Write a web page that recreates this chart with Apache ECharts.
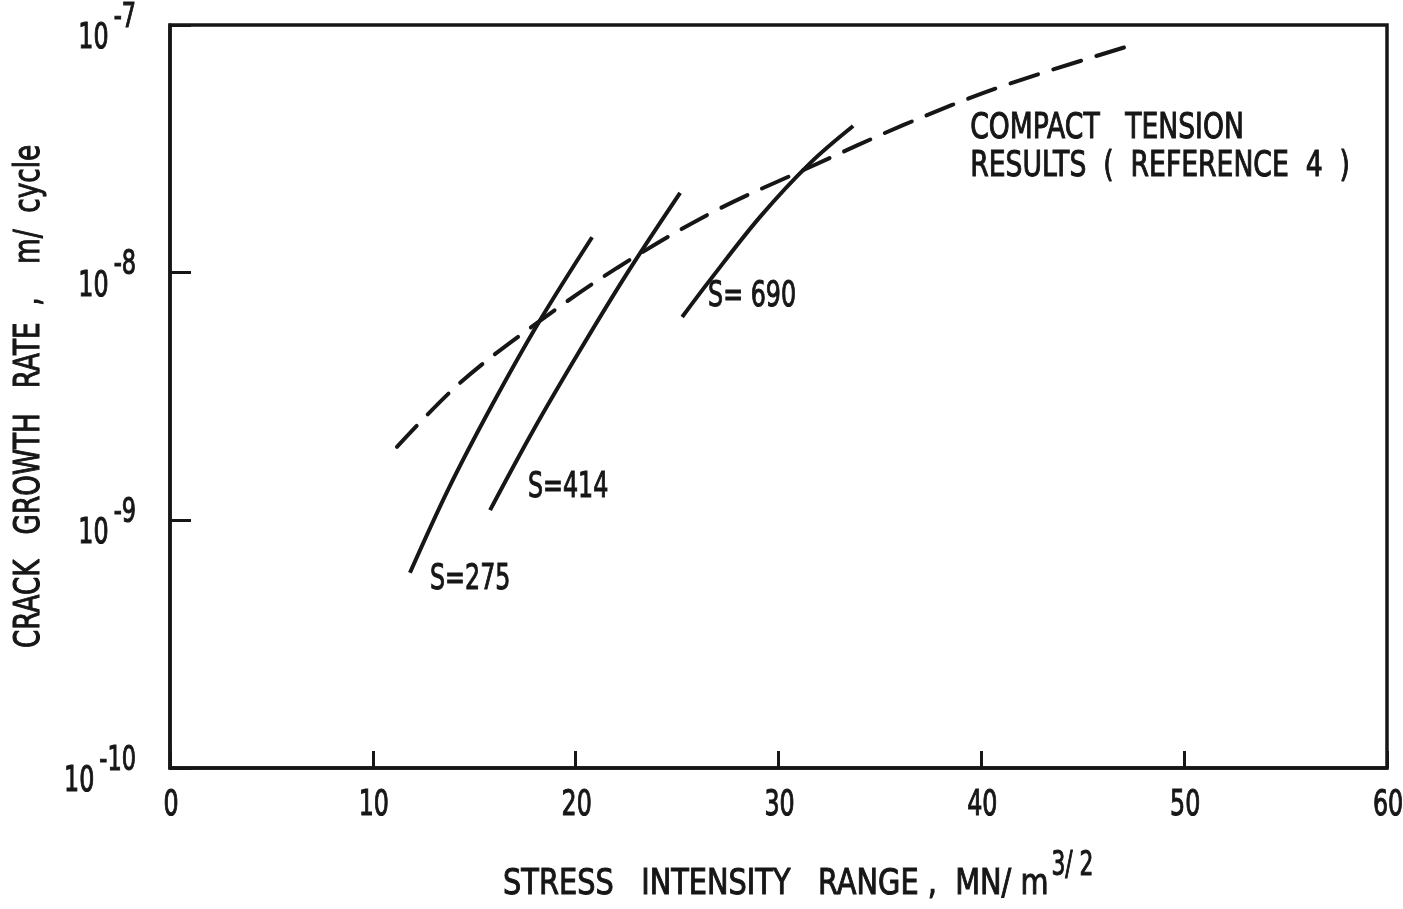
<!DOCTYPE html>
<html>
<head>
<meta charset="utf-8">
<script src="https://cdn.jsdelivr.net/npm/echarts@6/dist/echarts.min.js"></script>
<style>
html,body{margin:0;padding:0;background:#fff;}
#c{width:1403px;height:909px;}
</style>
</head>
<body>
<div id="c"></div>
<script>
// Stress intensity range (MN/m^3/2) and crack growth rate (m/cycle)
var s275X = [11.83, 13.73, 15.88, 18.22, 20.81];
var s275Y = [6.14e-10, 1.34e-9, 2.92e-9, 6.38e-9, 1.39e-8];
var s414X = [15.78, 17.90, 20.17, 22.58, 25.15];
var s414Y = [1.10e-9, 2.30e-9, 4.79e-9, 1.007e-8, 2.10e-8];
var s690X = [25.25, 26.63, 29.09, 31.56, 33.68];
var s690Y = [6.62e-9, 9.35e-9, 1.68e-8, 2.77e-8, 3.91e-8];
var ctX = [11.19, 14.30, 18.10, 22.04, 26.78, 31.56, 36.14, 40.93, 47.44];
var ctY = [1.98e-9, 3.59e-9, 6.27e-9, 1.045e-8, 1.76e-8, 2.67e-8, 3.94e-8, 5.62e-8, 8.30e-8];
var xTicks = [0, 10, 20, 30, 40, 50, 60];
var yTicks = [1e-10, 1e-9, 1e-8, 1e-7];
var curveLabels = [
  {text: 'S=275', x: 12.82, y: 5.74e-10},
  {text: 'S=414', x: 17.65, y: 1.35e-9},
  {text: 'S= 690', x: 26.53, y: 7.98e-9}
];
var noteLabels = [
  {text: 'COMPACT   TENSION', x: 39.45, y: 3.82e-8},
  {text: 'RESULTS  (  REFERENCE  4  )', x: 39.45, y: 2.69e-8}
];
var xName = 'STRESS   INTENSITY   RANGE ,  MN/ m';
var xNameSup = '3/ 2';
var yName = 'CRACK   GROWTH   RATE  ,    m/  cycle';

function zip(xs, ys){ return xs.map(function(v,i){ return [v, ys[i]]; }); }

var FAM = '"DejaVu Sans", "Liberation Sans", sans-serif';
var INK = '#161616';
var solid = {color: INK, width: 4};

var chart = echarts.init(document.getElementById('c'));
chart.setOption({
  backgroundColor: '#fff',
  animation: false,
  grid: {left: 170, top: 25, right: 16, bottom: 141, outerBoundsMode: 'none',
    show: true, borderColor: INK, borderWidth: 3.5, backgroundColor: 'transparent'},
  xAxis: {
    type: 'value', min: xTicks[0], max: xTicks[xTicks.length-1], interval: 10,
    axisLine: {show: true, lineStyle: {color: INK, width: 3.5}},
    axisTick: {show: true, inside: true, length: 17, lineStyle: {color: INK, width: 3}},
    splitLine: {show: false},
    axisLabel: {show: false}
  },
  yAxis: {
    type: 'log', logBase: 10, min: yTicks[0], max: yTicks[yTicks.length-1],
    axisLine: {show: true, lineStyle: {color: INK, width: 3.5}},
    axisTick: {show: true, inside: true, length: 21, lineStyle: {color: INK, width: 3}},
    splitLine: {show: false},
    minorTick: {show: false},
    axisLabel: {show: false}
  },
  series: [
    {type: 'line', data: zip(s275X, s275Y), smooth: 0.35, showSymbol: false, lineStyle: solid, silent: true},
    {type: 'line', data: zip(s414X, s414Y), smooth: 0.35, showSymbol: false, lineStyle: solid, silent: true},
    {type: 'line', data: zip(s690X, s690Y), smooth: 0.35, showSymbol: false, lineStyle: solid, silent: true},
    {type: 'line', data: zip(ctX, ctY), smooth: 0.35, showSymbol: false, silent: true,
      lineStyle: {color: INK, width: 4, type: [29, 16], cap: 'round'}}
  ]
});

// Text drawn as condensed real text, positioned through the chart's own axes
var mctx = document.createElement('canvas').getContext('2d');
function W(str, size, sx){ mctx.font = 'normal ' + size + 'px ' + FAM; return mctx.measureText(str).width * sx; }
function P(x, y){ return chart.convertToPixel({xAxisIndex: 0, yAxisIndex: 0}, [x, y]); }
function T(str, px, py, size, sx, align, rot){
  return {type: 'text', x: px, y: py, scaleX: sx, rotation: rot || 0, silent: true, z: 100,
    style: {text: str, fill: INK, stroke: INK, lineWidth: 1.1, fontFamily: FAM, fontWeight: 'normal', fontSize: size,
      align: align, verticalAlign: 'middle', textAlign: align, textVerticalAlign: 'middle'}};
}
var els = [];
xTicks.forEach(function(v){
  var p = P(v, yTicks[0]);
  els.push(T(String(v), p[0] + 1, p[1] + 38, 36, 0.66, 'center'));
});
yTicks.forEach(function(v){
  var p = P(xTicks[0], v);
  var e = String(Math.round(Math.log10(v)));
  var expRight = p[0] - 34;
  var expW = W(e, 33, 0.68);
  els.push(T(e, expRight, p[1] - 7, 33, 0.68, 'right'));
  els.push(T('10', expRight - expW - 5, p[1] + 14, 35, 0.68, 'right'));
});
curveLabels.forEach(function(l){
  var p = P(l.x, l.y);
  els.push(T(l.text, p[0], p[1], 36, 0.66, 'left'));
});
noteLabels.forEach(function(l){
  var p = P(l.x, l.y);
  els.push(T(l.text, p[0], p[1], 36, 0.74, 'left'));
});
var bl = P(xTicks[0], yTicks[0]);
var tr = P(xTicks[xTicks.length-1], yTicks[yTicks.length-1]);
var cx = (bl[0] + tr[0]) / 2, cy = (bl[1] + tr[1]) / 2;
els.push(T(xName, cx + 270, bl[1] + 117, 36, 0.8, 'right'));
els.push(T(xNameSup, cx + 273, bl[1] + 98, 33, 0.66, 'left'));
els.push(T(yName, bl[0] - 140, cy, 36, 0.73, 'center', Math.PI / 2));
chart.setOption({graphic: {elements: els}});
</script>
</body>
</html>
